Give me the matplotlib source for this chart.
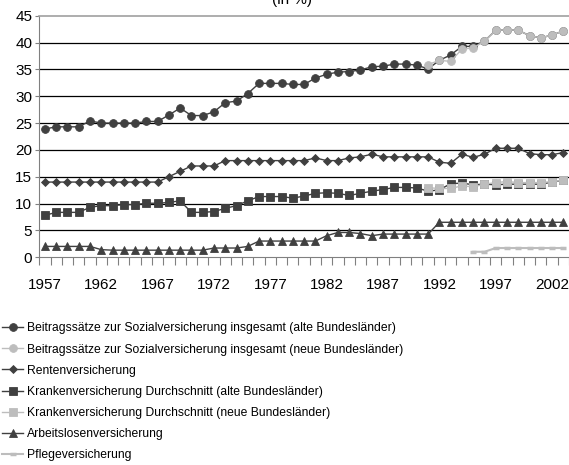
import matplotlib
matplotlib.use("Agg")
import matplotlib.pyplot as plt
from matplotlib import font_manager

# pick a narrow Arial-like face if there is one
family = "Liberation Sans"
try:
    font_manager.findfont("Liberation Sans Narrow", fallback_to_default=False)
    family = "Liberation Sans Narrow"
except Exception:
    pass
plt.rcParams["font.family"] = [family, "DejaVu Sans"]

years = list(range(1957, 2004))
tick_years = list(range(1957, 2004, 5))

# Beitragssaetze insgesamt, alte Bundeslaender (1957-2003)
total_west = [23.9, 24.3, 24.3, 24.3, 25.4, 25.0, 25.0, 25.0, 25.0, 25.3,
              25.3, 26.5, 27.8, 26.4, 26.4, 27.1, 28.8, 29.1, 30.5, 32.4,
              32.4, 32.4, 32.2, 32.2, 33.4, 34.1, 34.5, 34.6, 34.9, 35.5,
              35.6, 36.0, 36.0, 35.8, 35.1, 36.7, 37.7, 39.3, 39.3, 40.3,
              42.3, 42.4, 42.3, 41.3, 40.9, 41.4, 42.2]
# neue Bundeslaender (1991-2003)
total_east_years = list(range(1991, 2004))
total_east = [35.9, 36.7, 36.5, 38.8, 39.0, 40.3, 42.3, 42.4, 42.3, 41.3,
              40.9, 41.4, 42.2]

pension = [14.0] * 11 + [15.0, 16.0, 17.0, 17.0, 17.0] + [18.0] * 8 + \
          [18.5, 18.0, 18.0, 18.5, 18.7, 19.2, 18.7, 18.7, 18.7, 18.7, 18.7,
           17.7, 17.5, 19.2, 18.6, 19.2, 20.3, 20.3, 20.3, 19.3, 19.1, 19.1,
           19.5]

health_west = [7.8, 8.35, 8.35, 8.35, 9.3, 9.6, 9.6, 9.8, 9.8, 10.05,
               10.05, 10.2, 10.5, 8.35, 8.35, 8.5, 9.1, 9.6, 10.5, 11.3,
               11.3, 11.3, 11.0, 11.4, 11.9, 12.0, 11.9, 11.5, 11.9, 12.3,
               12.6, 13.0, 13.0, 12.9, 12.3, 12.55, 13.7, 13.8, 13.5, 13.6,
               13.5, 13.6, 13.6, 13.6, 13.6, 14.0, 14.3]
health_east = [12.95, 12.8, 12.8, 13.3, 13.1, 13.6, 13.9, 14.1, 13.9, 13.9,
               13.9, 14.1, 14.3]

unemployment = [2.0] * 5 + [1.4] + [1.3] * 9 + [1.7, 1.7, 1.7, 2.0] + \
               [3.0] * 6 + [4.0, 4.6, 4.6, 4.4, 4.0, 4.3, 4.3, 4.3, 4.3, 4.3] + \
               [6.5] * 12

care_years = list(range(1995, 2004))
care = [1.0, 1.0, 1.7, 1.7, 1.7, 1.7, 1.7, 1.7, 1.7]

labels = [
    "Beitragssätze zur Sozialversicherung insgesamt (alte Bundesländer)",
    "Beitragssätze zur Sozialversicherung insgesamt (neue Bundesländer)",
    "Rentenversicherung",
    "Krankenversicherung Durchschnitt (alte Bundesländer)",
    "Krankenversicherung Durchschnitt (neue Bundesländer)",
    "Arbeitslosenversicherung",
    "Pflegeversicherung",
]

dark = "#404040"
light = "#bdbdbd"

fig = plt.figure(figsize=(5.69, 4.65), dpi=100)
ax = fig.add_axes([0.069, 0.447, 0.931, 0.519])

idx = {y: i for i, y in enumerate(years)}
x_all = [idx[y] for y in years]
x_east = [idx[y] for y in total_east_years]
x_care = [idx[y] for y in care_years]

kw = dict(lw=1.0, mew=0.6)
ax.plot(x_all, total_west, color=dark, marker="o", ms=5.6, mfc=dark, mec=dark, **kw)
ax.plot(x_east, total_east, color=light, marker="o", ms=5.6, mfc=light, mec=light, **kw)
ax.plot(x_all, pension, color=dark, marker="D", ms=4.5, mfc=dark, mec=dark, **kw)
ax.plot(x_all, health_west, color=dark, marker="s", ms=5.5, mfc=dark, mec=dark, **kw)
ax.plot(x_east, health_east, color=light, marker="s", ms=5.5, mfc=light, mec=light, **kw)
ax.plot(x_all, unemployment, color=dark, marker="^", ms=5.6, mfc=dark, mec=dark, **kw)
ax.plot(x_care, care, color=light, marker="_", ms=5, mew=2.5, mfc=light, mec=light, lw=1.5)

ax.set_xlim(-0.5, len(years) - 0.5)
ax.set_ylim(0, 45)
ax.set_yticks(range(0, 46, 5))
for v in range(5, 45, 5):
    ax.axhline(v, color="black", lw=0.9, zorder=0)

ax.set_xticks([idx[y] for y in tick_years])
ax.set_xticklabels([str(y) for y in tick_years])
ax.set_xticks([i - 0.5 for i in range(len(years) + 1)], minor=True)
ax.tick_params(axis="x", which="major", length=0, pad=15, labelsize=11)
ax.tick_params(axis="x", which="minor", length=6, width=0.8, color="#808080", direction="out")
ax.tick_params(axis="y", length=3, width=0.8, color="#808080", labelsize=11, pad=2)

ax.spines["right"].set_visible(False)
ax.spines["top"].set_color("#a0a0a0")
ax.spines["top"].set_linewidth(1.2)
ax.spines["left"].set_color("#808080")
ax.spines["bottom"].set_color("#808080")

fig.text(0.513, 1.0, "(in %)", ha="center", va="center", fontsize=11)

handles = ax.get_lines()[:7]
fig.legend(handles, labels, loc="upper left", bbox_to_anchor=(0.0, 0.312),
           frameon=False, fontsize=8.7, handlelength=1.7, handletextpad=0.3,
           labelspacing=0.76, borderaxespad=0, borderpad=0.2)

fig.savefig("out.png", dpi=100)
